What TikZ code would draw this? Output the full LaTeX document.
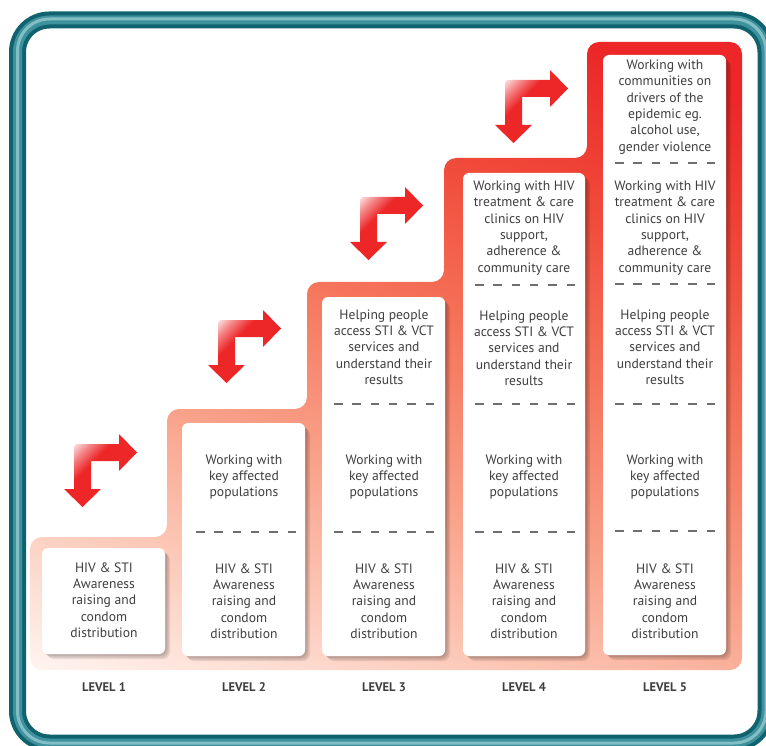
\documentclass[tikz,border=0pt]{standalone}
\usepackage{fontspec}
\setmainfont{PT Sans}
\usetikzlibrary{positioning}

\definecolor{tealband}{RGB}{16,98,110}
\definecolor{teallight}{RGB}{78,162,172}
\definecolor{stepred}{RGB}{237,38,40}
\definecolor{stepredorange}{RGB}{240,74,58}
\definecolor{stepsalmon}{RGB}{245,115,90}
\definecolor{steppeach}{RGB}{249,160,136}
\definecolor{steplight}{RGB}{252,201,184}
\definecolor{steppale}{RGB}{255,244,240}
\definecolor{cardtext}{RGB}{62,62,62}
\definecolor{dashgray}{RGB}{110,110,110}

% colour runs for the staircase and the arrows
\pgfdeclareverticalshading{stairshade}{100bp}{color(0bp)=(steppale); color(18bp)=(steppale);
  color(30bp)=(steplight); color(41bp)=(steppeach); color(54bp)=(stepsalmon);
  color(66bp)=(stepredorange); color(78bp)=(stepred); color(100bp)=(stepred)}
\pgfdeclareverticalshading{arrowshade}{100bp}{color(0bp)=(stepred); color(58bp)=(stepred);
  color(67bp)=(stepred!60!white); color(76bp)=(stepred!12!white); color(100bp)=(stepred!12!white)}

\tikzset{
  cardshadow/.style={fill=black, opacity=0.09, rounded corners=7pt},
  card/.style={fill=white, rounded corners=6pt},
  cardtxt/.style={align=center, text=cardtext, inner sep=0pt,
    font=\fontsize{13.6}{16.3}\selectfont},
  levellabel/.style={text=cardtext, inner sep=0pt,
    font=\bfseries\fontsize{12.5}{14}\selectfont},
  sepline/.style={dashgray, line width=1.3pt, dash pattern=on 8.5pt off 9.8pt},
  bentarrow/.pic={
    \shade[shading=arrowshade, shading angle=45]
      (0,7) .. controls (0,0) .. (7,0) -- (45,0) -- (45,-10) -- (63,8.5)
      -- (45,27) -- (45,17) -- (17,17) -- (17,45) -- (27,45)
      -- (8.5,63) -- (-10,45) -- (0,45) -- cycle;
  }
}

\begin{document}
\begin{tikzpicture}[x=1pt, y=-1pt]
\useasboundingbox (0,0) rectangle (766,746);

% Frame
\draw[line width=17pt, tealband, rounded corners=32pt] (17.5,20) rectangle (766,743);
\draw[line width=9pt, teallight!75!tealband, rounded corners=32pt] (17.5,20) rectangle (766,743);
\draw[line width=3pt, teallight!70!white, rounded corners=32pt] (17.5,19) rectangle (766,743);

% Staircase
\shade[shading=stairshade, shading angle=-20, rounded corners=12pt]
  (30,670) -- (30,537) -- (167,537) -- (167,409) -- (307,409) -- (307,282)
  -- (444,282) -- (444,158) -- (587,158) -- (587,42) -- (742,42) -- (742,670) -- cycle;

% Cards with shadows
\foreach \d in {2,3.5,5} {
  \fill[cardshadow] (42+\d,548+\d) rectangle (165+\d,654+\d);
  \fill[cardshadow] (182+\d,423+\d) rectangle (305+\d,656+\d);
  \fill[cardshadow] (322+\d,297+\d) rectangle (445+\d,656+\d);
  \fill[cardshadow] (463+\d,173+\d) rectangle (585+\d,656+\d);
  \fill[cardshadow] (603+\d,55+\d) rectangle (726+\d,655+\d);
}
\fill[card] (42,548) rectangle (165,654);
\fill[card] (182,423) rectangle (305,656);
\fill[card] (322,297) rectangle (445,656);
\fill[card] (463,173) rectangle (585,656);
\fill[card] (603,55) rectangle (726,655);

% Separators
\draw[sepline] (196,532) -- (296,532);
\draw[sepline] (334,404) -- (434,404);
\draw[sepline] (334,532) -- (434,532);
\draw[sepline] (475,285) -- (575,285);
\draw[sepline] (475,404) -- (575,404);
\draw[sepline] (475,532) -- (575,532);
\draw[sepline] (615,163) -- (715,163);
\draw[sepline] (615,284) -- (715,284);
\draw[sepline] (615,404) -- (715,404);
\draw[sepline] (615,531) -- (715,531);

% Level 1
\node[cardtxt] (aware1) at (104,600) {HIV \& STI\\Awareness\\raising and\\condom\\distribution};
\node[levellabel] (lvl1) at (104,687) {LEVEL 1};

% Level 2
\node[cardtxt] (aware2) at (244,601) {HIV \& STI\\Awareness\\raising and\\condom\\distribution};
\node[cardtxt] (key2) at (244,477) {Working with\\key affected\\populations};
\node[levellabel] (lvl2) at (244,687) {LEVEL 2};

% Level 3
\node[cardtxt] (aware3) at (384,601) {HIV \& STI\\Awareness\\raising and\\condom\\distribution};
\node[cardtxt] (key3) at (384,477) {Working with\\key affected\\populations};
\node[cardtxt] (help3) at (384,347) {Helping people\\access STI \& VCT\\services and\\understand their\\results};
\node[levellabel] (lvl3) at (384,687) {LEVEL 3};

% Level 4
\node[cardtxt] (aware4) at (524,601) {HIV \& STI\\Awareness\\raising and\\condom\\distribution};
\node[cardtxt] (key4) at (524,477) {Working with\\key affected\\populations};
\node[cardtxt] (help4) at (524,348) {Helping people\\access STI \& VCT\\services and\\understand their\\results};
\node[cardtxt] (clinic4) at (524,228) {Working with HIV\\treatment \& care\\clinics on HIV\\support,\\adherence \&\\community care};
\node[levellabel] (lvl4) at (524,687) {LEVEL 4};

% Level 5
\node[cardtxt] (aware5) at (665,601) {HIV \& STI\\Awareness\\raising and\\condom\\distribution};
\node[cardtxt] (key5) at (665,477) {Working with\\key affected\\populations};
\node[cardtxt] (help5) at (665,347) {Helping people\\access STI \& VCT\\services and\\understand their\\results};
\node[cardtxt] (clinic5) at (665,228) {Working with HIV\\treatment \& care\\clinics on HIV\\support,\\adherence \&\\community care};
\node[cardtxt] (comm5) at (665,107) {Working with\\communities on\\drivers of the\\epidemic eg.\\alcohol use,\\gender violence};
\node[levellabel] (lvl5) at (665,687) {LEVEL 5};

% Step-up arrows
\pic at (74,444) {bentarrow};
\pic at (218,320) {bentarrow};
\pic at (360,197) {bentarrow};
\pic at (505,80) {bentarrow};
\end{tikzpicture}
\end{document}
